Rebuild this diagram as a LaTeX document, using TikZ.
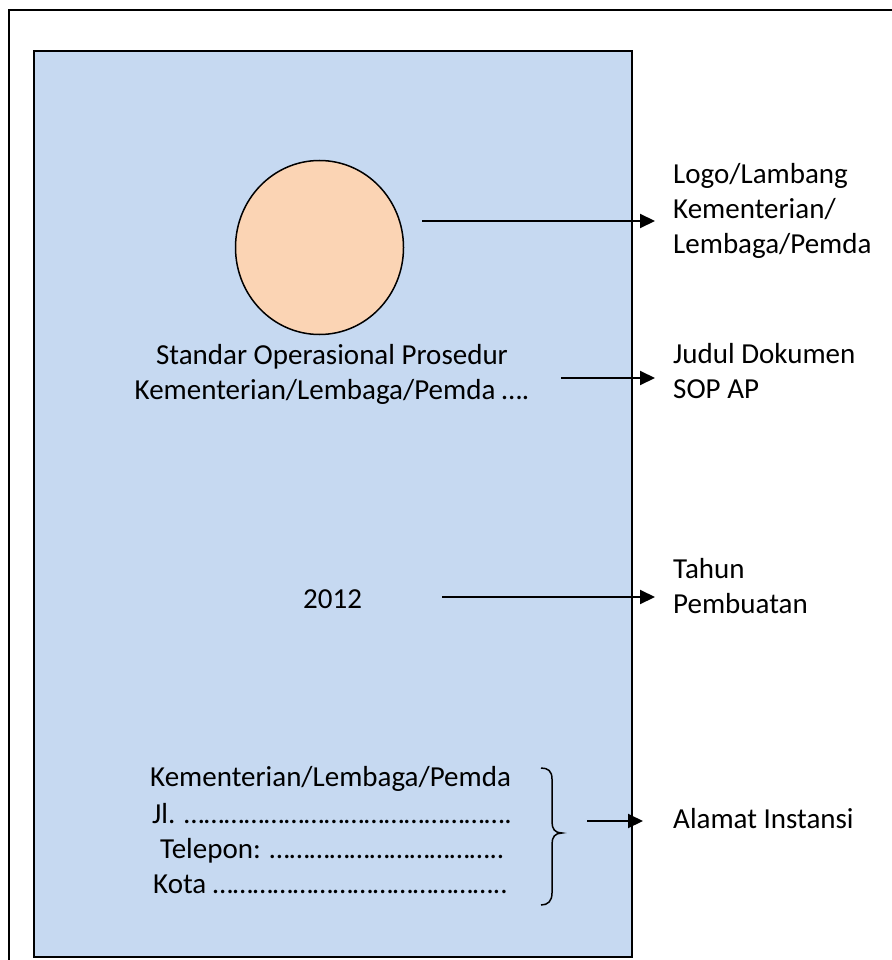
\documentclass[tikz,border=0pt]{standalone}
\usepackage{fontspec}
\setmainfont{Carlito}
\usetikzlibrary{arrows.meta,shapes.geometric}
\definecolor{pageblue}{HTML}{C6D9F1}
\definecolor{logopeach}{HTML}{FBD4B4}
\begin{document}
\begin{tikzpicture}[x=1pt,y=-1pt,
  lbl/.style={anchor=base west, inner sep=0pt, font=\fontsize{29}{35}\selectfont, align=left},
  ctr/.style={anchor=base, inner sep=0pt, font=\fontsize{29}{35}\selectfont, align=center},
  arr/.style={line width=2pt, -{Triangle[length=15pt,width=14pt]}},
  frame/.style={line width=2pt}]
\useasboundingbox (0,0) rectangle (891,960);
\fill[white] (0,0) rectangle (891,960);
% outer frame (extends beyond the picture)
\draw[frame] (9,975) -- (9,10) -- (905,10);
% page
\draw[frame, fill=pageblue] (34,51) rectangle (632,957);
% logo
\node[draw, ellipse, line width=1.5pt, fill=logopeach, minimum width=168pt, minimum height=174pt, inner sep=0pt] (logo) at (319.5,247.5) {};
% title (base = baseline of last line)
\node[ctr] (title) at (332,399) {Standar Operasional Prosedur\\Kementerian/Lembaga/Pemda \ldots.};
% year
\node[lbl] (year) at (303,608) {2012};
% address
\node[lbl] (addr1) at (150,786) {Kementerian/Lembaga/Pemda};
\node[lbl] (addr2) at (152,823) {Jl. \ldots\ldots\ldots\ldots\ldots\ldots\ldots\ldots\ldots\ldots\ldots\ldots\ldots\ldots\ldots\ldots.};
\node[lbl] (addr3) at (160,858) {Telepon: \ldots\ldots\ldots\ldots\ldots\ldots\ldots\ldots\ldots\ldots\ldots..};
\node[lbl] (addr4) at (153,893) {Kota \ldots\ldots\ldots\ldots\ldots\ldots\ldots\ldots\ldots\ldots\ldots\ldots\ldots\ldots..};
% brace
\draw[line width=1.5pt] (541,768) .. controls (548,768) and (552,771) .. (552,779) -- (552,822)
  .. controls (552,829) and (555,833) .. (562,833)
  .. controls (555,833) and (552,837) .. (552,844) -- (552,893)
  .. controls (552,901) and (548,905) .. (541,905);
% right labels (base = baseline of last line)
\node[lbl] (lblLogo) at (673,253) {Logo/Lambang\\Kementerian/\\Lembaga/Pemda};
\node[lbl] (lblJudul) at (673,398) {Judul Dokumen\\SOP AP};
\node[lbl] (lblTahun) at (673,613) {Tahun\\Pembuatan};
\node[lbl] (lblAlamat) at (673,828) {Alamat Instansi};
% arrows
\coordinate (s1) at (422,221);
\coordinate (s2) at (561,378);
\coordinate (s3) at (442,597);
\coordinate (s4) at (587,821);
\draw[arr, shorten >=18pt] (s1) -- (s1 -| lblLogo.west);
\draw[arr, shorten >=18pt] (s2) -- (s2 -| lblJudul.west);
\draw[arr, shorten >=18pt] (s3) -- (s3 -| lblTahun.west);
\draw[arr, shorten >=30pt] (s4) -- (s4 -| lblAlamat.west);
\end{tikzpicture}
\end{document}
